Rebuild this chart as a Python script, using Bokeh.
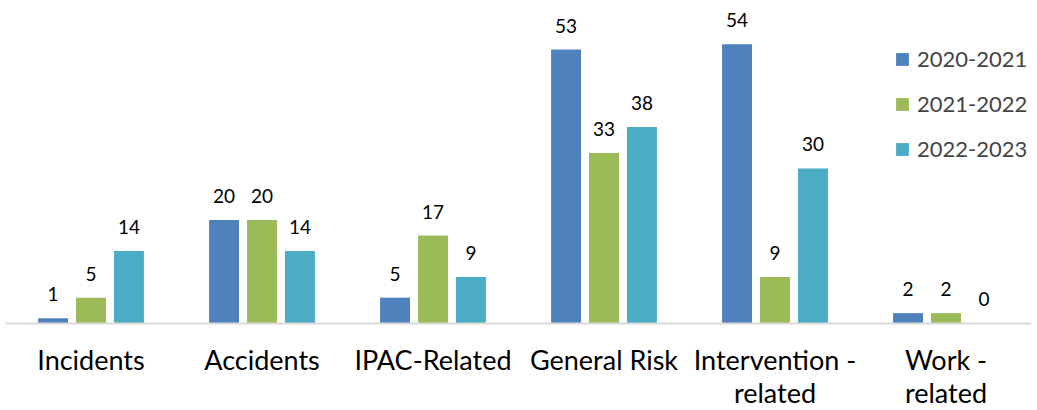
from bokeh.plotting import figure
from bokeh.models import ColumnDataSource, Legend, LegendItem, Span
from bokeh.transform import dodge
from bokeh.core.properties import value
from bokeh.embed import file_html
from bokeh.resources import INLINE

categories = ["Incidents", "Accidents", "IPAC-Related", "General Risk",
              "Intervention -\nrelated", "Work -\nrelated"]
series_names = ["2020-2021", "2021-2022", "2022-2023"]
values_2020_2021 = [1, 20, 5, 53, 54, 2]
values_2021_2022 = [5, 20, 17, 33, 9, 2]
values_2022_2023 = [14, 14, 9, 38, 30, 0]
colors = ["#4F81BD", "#9BBB59", "#4BACC6"]

FONT = "Lato"

source = ColumnDataSource(data=dict(
    cat=categories,
    s0=values_2020_2021,
    s1=values_2021_2022,
    s2=values_2022_2023,
    l0=[str(v) for v in values_2020_2021],
    l1=[str(v) for v in values_2021_2022],
    l2=[str(v) for v in values_2022_2023],
    zero=[0] * len(categories),
))

# the frame reaches the bottom edge; the band below zero holds the category names
p = figure(x_range=categories, y_range=(-16.83, 62.48), width=1037, height=410,
           output_backend="svg", toolbar_location=None,
           min_border_left=5, min_border_right=6, min_border_top=0,
           min_border_bottom=0)

offsets = [-0.222, 0.0, 0.222]
renderers = []
for i, off in enumerate(offsets):
    x = dodge("cat", off, range=p.x_range)
    r = p.vbar(x=x, top=f"s{i}", width=0.175, source=source,
               fill_color=colors[i], line_color=None)
    renderers.append(r)
    p.text(x=x, y=f"s{i}", text=f"l{i}", source=source,
           text_align="center", text_baseline="alphabetic", y_offset=-24,
           text_font=value(FONT), text_font_size="19px", text_color="#000000")

# baseline of the bars
p.add_layout(Span(location=0, dimension="width", line_color="#D9D9D9",
                  line_width=2))

# category names under each group
p.text(x="cat", y="zero", text="cat", source=source,
       text_align="center", text_baseline="top", y_offset=20,
       text_line_height=1.0, text_font=value(FONT), text_font_size="27px",
       text_color="#000000")

legend = Legend(items=[LegendItem(label=n, renderers=[r])
                       for n, r in zip(series_names, renderers)],
                location=(889, 248), glyph_width=16, glyph_height=16,
                label_text_font=FONT, label_text_font_size="22px",
                label_height=23, spacing=18, padding=0, margin=0,
                label_standoff=7, border_line_color=None,
                background_fill_alpha=0)
p.add_layout(legend)

p.xaxis.visible = False
p.yaxis.visible = False
p.xgrid.grid_line_color = None
p.ygrid.grid_line_color = None
p.outline_line_color = None

open("out.html", "w").write(file_html(p, INLINE))
